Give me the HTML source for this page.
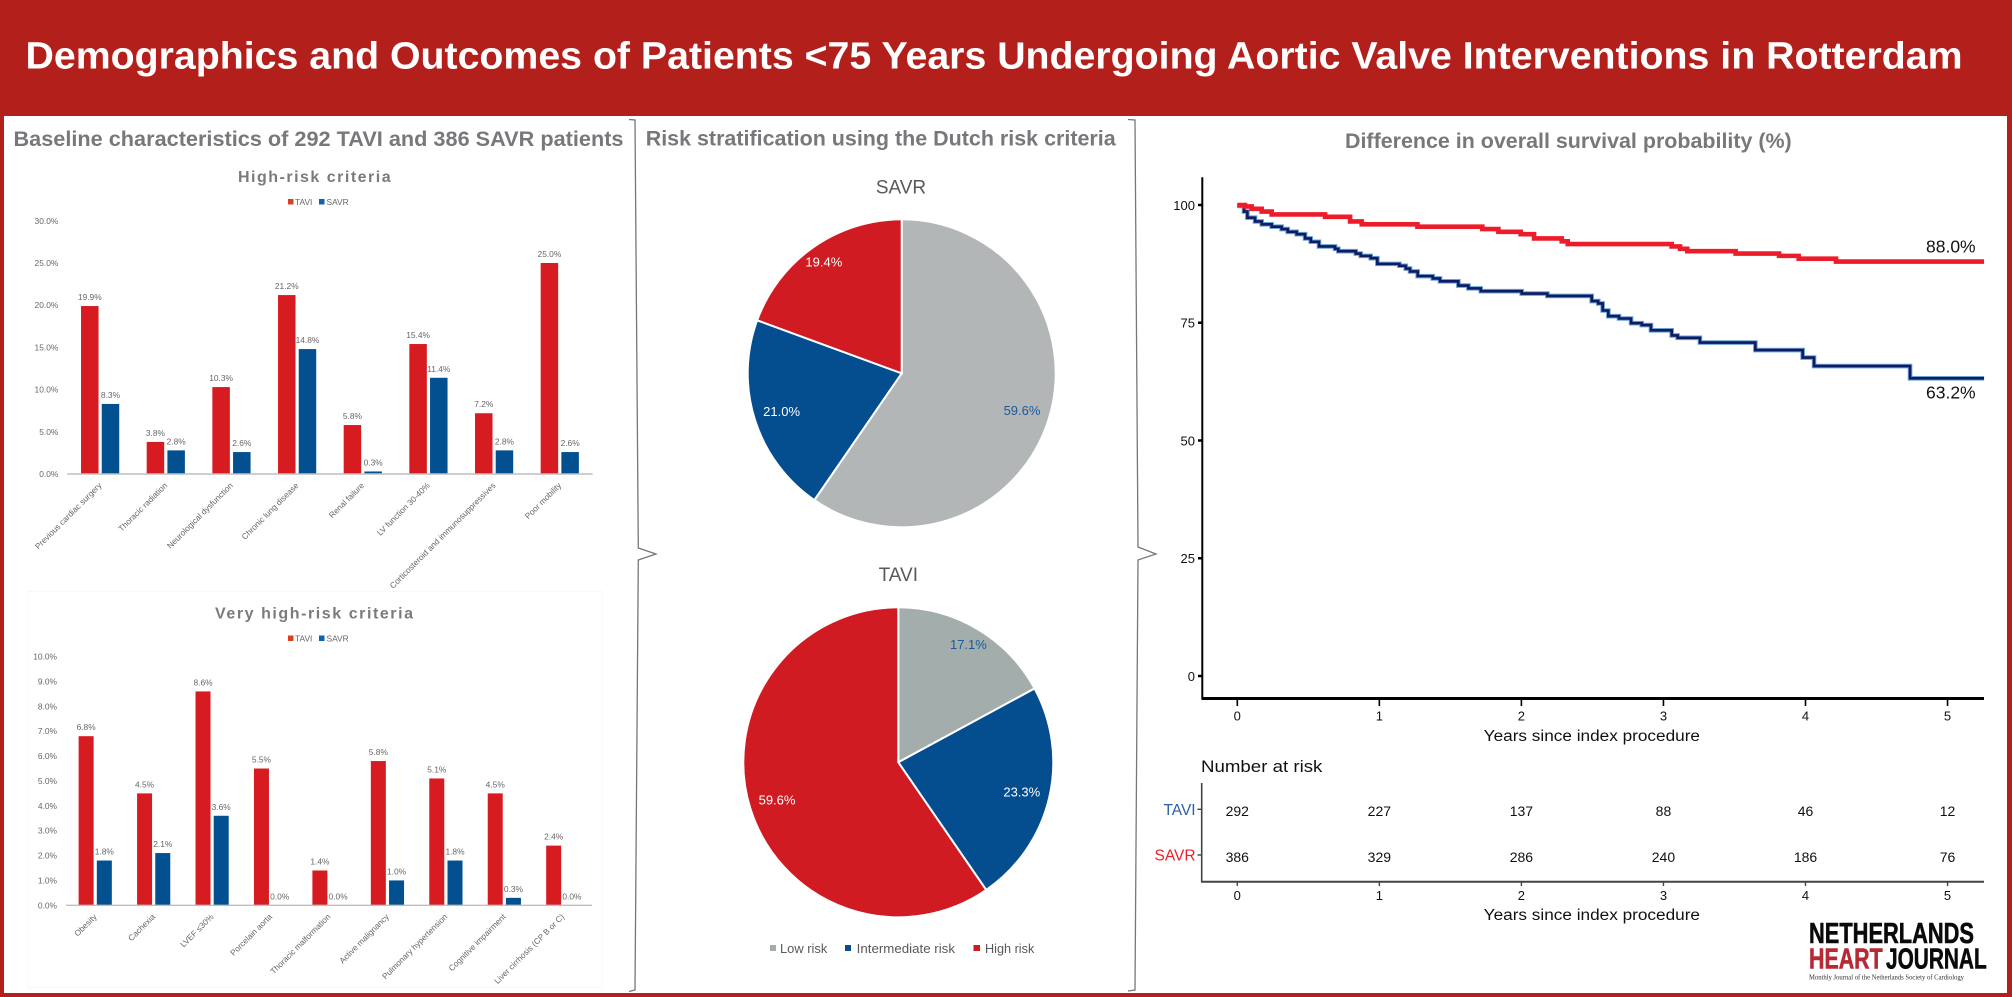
<!DOCTYPE html>
<html lang="en">
<head>
<meta charset="utf-8">
<title>Demographics and Outcomes of Patients &lt;75 Years Undergoing Aortic Valve Interventions in Rotterdam</title>
<style>
  html, body { margin: 0; padding: 0; background: #fff; width: 2012px; height: 997px; overflow: hidden; }
  svg { display: block; font-family: "Liberation Sans", sans-serif; }
  .heading { font-weight: 700; fill: #77787b; font-size: 21.5px; }
  .chart-title { font-weight: 700; fill: #7b7b7b; font-size: 16px; }
  .bar-text { fill: #666; font-size: 8.4px; }
  .km-text { fill: #111; }
</style>
</head>
<body>
<svg id="stage" xmlns="http://www.w3.org/2000/svg" width="2012" height="997" viewBox="0 0 2012 997">
  <rect x="0" y="0" width="2012" height="997" fill="#ffffff"/>
  <rect x="0" y="0" width="2012" height="116" fill="#b3201c"/>
  <rect x="0" y="116" width="4" height="881" fill="#b3201c"/>
  <rect x="2007" y="116" width="5" height="881" fill="#b3201c"/>
  <rect x="0" y="993" width="2012" height="4" fill="#b3201c"/>
  <text x="25.5" y="68.3" font-size="38" font-weight="700" fill="#ffffff" textLength="1937" lengthAdjust="spacingAndGlyphs">Demographics and Outcomes of Patients &lt;75 Years Undergoing Aortic Valve Interventions in Rotterdam</text>

  <text class="heading" x="13.5" y="146" textLength="610" lengthAdjust="spacingAndGlyphs">Baseline characteristics of 292 TAVI and 386 SAVR patients</text>
  <text class="heading" x="645.7" y="145.7" textLength="470" lengthAdjust="spacingAndGlyphs">Risk stratification using the Dutch risk criteria</text>
  <text class="heading" x="1345" y="148" textLength="446.7" lengthAdjust="spacingAndGlyphs">Difference in overall survival probability (%)</text>

  <path d="M629 119.5 L635 120 L638.3 548 L656 554 L638.3 560 L635 990 L629 991.5" fill="none" stroke="#777" stroke-width="1.3"/>
  <path d="M1128 119.5 L1135 120 L1138 547 L1156 554 L1138 560 L1135 990 L1128 991" fill="none" stroke="#777" stroke-width="1.3"/>

  <rect x="28" y="591.5" width="574" height="396" fill="none" stroke="#f8f8f8" stroke-width="1"/>

  <text class="chart-title" x="238" y="182" textLength="152.6" lengthAdjust="spacing">High-risk criteria</text>
  <text class="chart-title" x="215" y="618.5" textLength="198" lengthAdjust="spacing">Very high-risk criteria</text>

  <g>
    <rect x="288" y="199" width="5.5" height="5.5" fill="#d9401f"/>
    <text class="bar-text" x="295" y="204.8">TAVI</text>
    <rect x="319" y="199" width="5.5" height="5.5" fill="#0f63a8"/>
    <text class="bar-text" x="326.5" y="204.8">SAVR</text>
  </g>
  <g>
    <rect x="288" y="635.5" width="5.5" height="5.5" fill="#d9401f"/>
    <text class="bar-text" x="295" y="641.3">TAVI</text>
    <rect x="319" y="635.5" width="5.5" height="5.5" fill="#0f63a8"/>
    <text class="bar-text" x="326.5" y="641.3">SAVR</text>
  </g>

  <g id="high-risk-chart"></g>
  <g id="very-high-risk-chart"></g>

  <text x="901" y="193.5" font-size="19" fill="#595959" text-anchor="middle">SAVR</text>
  <text x="898.3" y="581" font-size="19" fill="#595959" text-anchor="middle">TAVI</text>
  <g id="savr-pie"></g>
  <g id="tavi-pie"></g>

  <g>
    <rect x="770" y="945" width="6" height="6" fill="#a3aeac"/>
    <text x="780" y="953" font-size="13" fill="#595959" textLength="47.3" lengthAdjust="spacingAndGlyphs">Low risk</text>
    <rect x="845" y="945" width="6" height="6" fill="#044d8f"/>
    <text x="856.7" y="953" font-size="13" fill="#595959" textLength="98.3" lengthAdjust="spacingAndGlyphs">Intermediate risk</text>
    <rect x="973.5" y="945" width="6.5" height="6" fill="#cf1b21"/>
    <text x="985" y="953" font-size="13" fill="#595959" textLength="49.3" lengthAdjust="spacingAndGlyphs">High risk</text>
  </g>

  <g id="survival-chart"></g>
  <g id="risk-table"></g>

  <g>
    <text x="1809" y="942.8" font-size="29" font-weight="700" fill="#0a0a0a" stroke="#0a0a0a" stroke-width="0.6" textLength="165" lengthAdjust="spacingAndGlyphs">NETHERLANDS</text>
    <text x="1809" y="968.4" font-size="29" font-weight="700" fill="#b72a35" stroke="#b72a35" stroke-width="0.6" textLength="73.7" lengthAdjust="spacingAndGlyphs">HEART</text>
    <text x="1886" y="968.4" font-size="29" font-weight="700" fill="#0a0a0a" stroke="#0a0a0a" stroke-width="0.6" textLength="100.7" lengthAdjust="spacingAndGlyphs">JOURNAL</text>
    <text x="1809" y="979.5" font-size="7" fill="#333" font-family="Liberation Serif, serif" textLength="155" lengthAdjust="spacingAndGlyphs">Monthly Journal of the Netherlands Society of Cardiology</text>
  </g>
</svg>

<script>
// ---- High-risk bar chart data ----
const highCategories = ['Previous cardiac surgery', 'Thoracic radiation', 'Neurological dysfunction', 'Chronic lung disease', 'Renal failure', 'LV function 30-40%', 'Corticosteroid and immunosuppressives', 'Poor mobility'];
const highTavi = [19.9, 3.8, 10.3, 21.2, 5.8, 15.4, 7.2, 25.0];
const highSavr = [8.3, 2.8, 2.6, 14.8, 0.3, 11.4, 2.8, 2.6];
const highTicks = [0, 5, 10, 15, 20, 25, 30];

// ---- Very high-risk bar chart data ----
const veryCategories = ['Obesity', 'Cachexia', 'LVEF \u226430%', 'Porcelain aorta', 'Thoracic malformation', 'Active malignancy', 'Pulmonary hypertension', 'Cognitive impairment', 'Liver cirrhosis (CP B or C)'];
const veryTavi = [6.8, 4.5, 8.6, 5.5, 1.4, 5.8, 5.1, 4.5, 2.4];
const verySavr = [1.8, 2.1, 3.6, 0.0, 0.0, 1.0, 1.8, 0.3, 0.0];
const veryTicks = [0, 1, 2, 3, 4, 5, 6, 7, 8, 9, 10];

// ---- Pie chart data (clockwise from 12 o'clock) ----
const riskLabels = ['Low risk', 'Intermediate risk', 'High risk'];
const savrRisk = [59.6, 21.0, 19.4];
const taviRisk = [17.1, 23.3, 59.6];

// ---- Survival curve data ----
const yearTicks = [0, 1, 2, 3, 4, 5];
const survivalTicks = [0, 25, 50, 75, 100];
const savrTimes = [0, 0.054, 0.101, 0.172, 0.242, 0.618, 0.794, 0.876, 1.268, 1.725, 1.838, 1.995, 2.089, 2.284, 2.326, 3.058, 3.117, 3.168, 3.508, 3.814, 3.952, 4.215, 5.257];
const savrSurvival = [100, 99.7, 99.2, 98.6, 98.0, 97.5, 96.5, 95.9, 95.4, 94.9, 94.3, 93.8, 92.9, 92.3, 91.7, 91.2, 90.7, 90.2, 89.7, 89.2, 88.6, 88.0, 88.0];
const taviTimes = [0, 0.047, 0.071, 0.125, 0.172, 0.242, 0.312, 0.355, 0.418, 0.477, 0.517, 0.575, 0.688, 0.711, 0.834, 0.869, 0.939, 0.986, 1.141, 1.186, 1.216, 1.27, 1.376, 1.427, 1.556, 1.627, 1.714, 2.002, 2.183, 2.495, 2.541, 2.572, 2.612, 2.687, 2.772, 2.847, 2.912, 3.058, 3.1, 3.257, 3.647, 3.98, 4.06, 4.736, 5.257];
const taviSurvival = [99.8, 98.6, 97.3, 96.5, 95.9, 95.4, 94.9, 94.3, 93.8, 92.9, 92.2, 91.2, 90.7, 90.2, 89.7, 89.2, 88.7, 87.5, 87.1, 86.5, 85.9, 84.9, 84.4, 83.8, 82.9, 82.3, 81.7, 81.2, 80.7, 79.6, 79.1, 77.6, 76.4, 75.9, 74.9, 74.5, 73.4, 72.3, 71.8, 70.8, 69.2, 67.6, 65.8, 63.2, 63.2];
const savrFinalLabel = '88.0%';
const taviFinalLabel = '63.2%';

// ---- Number-at-risk data ----
const riskGroups = ['TAVI', 'SAVR'];
const taviAtRisk = [292, 227, 137, 88, 46, 12];
const savrAtRisk = [386, 329, 286, 240, 186, 76];

const NS = 'http://www.w3.org/2000/svg';
function make(parent, tag, attrs, content) {
  const node = document.createElementNS(NS, tag);
  for (const key in attrs) node.setAttribute(key, attrs[key]);
  if (content !== undefined) node.textContent = content;
  parent.appendChild(node);
  return node;
}
function slug(s) {
  return String(s).toLowerCase().replace(/[^a-z0-9]+/g, '-').replace(/^-|-$/g, '');
}

function drawBars(root, cats, tavi, savr, ticks, o) {
  const y = v => o.base - v * o.perUnit;
  const band = (o.right - o.left) / cats.length;
  const center = i => o.left + band * (i + 0.5);

  ticks.forEach(t => {
    const label = make(root, 'text', { x: o.left - o.tickGap, y: y(t) + 3, 'text-anchor': 'end', class: 'bar-text' }, t.toFixed(1) + '%');
    
    
  });

  cats.forEach((cat, i) => {
    const cx = center(i);
    const redBar = make(root, 'rect', { x: cx - o.gap / 2 - o.barW, y: y(tavi[i]), width: o.barW, height: o.perUnit * tavi[i], fill: '#d71c21' });
    
    
    const blueBar = make(root, 'rect', { x: cx + o.gap / 2, y: y(savr[i]), width: o.barW, height: o.perUnit * savr[i], fill: '#02508f' });
    
    

    const redValue = make(root, 'text', { x: cx - o.gap / 2 - o.barW / 2, y: y(tavi[i]) - 6, 'text-anchor': 'middle', class: 'bar-text' }, tavi[i].toFixed(1) + '%');
    
    
    const blueValue = make(root, 'text', { x: cx + o.gap / 2 + o.barW / 2, y: y(savr[i]) - 6, 'text-anchor': 'middle', class: 'bar-text' }, savr[i].toFixed(1) + '%');
    
    

    const catLabel = make(root, 'text', { transform: 'translate(' + (cx + 2) + ',' + (o.base + o.catGap) + ') rotate(-45)', 'text-anchor': 'end', class: 'bar-text', style: 'font-size:8.2px' }, cat);
    
    
  });

  const axis = make(root, 'line', { x1: o.left, x2: o.right, y1: o.base, y2: o.base, stroke: '#bfbfbf', 'stroke-width': 1.4 });
  
  
}

drawBars(document.getElementById('high-risk-chart'), highCategories, highTavi, highSavr, highTicks,
  { left: 67.3, right: 592.6, base: 474, perUnit: 8.44, barW: 17.5, gap: 3.2, tickGap: 9, catGap: 12 });
drawBars(document.getElementById('very-high-risk-chart'), veryCategories, veryTavi, verySavr, veryTicks,
  { left: 66, right: 592, base: 905.3, perUnit: 24.87, barW: 15, gap: 3.2, tickGap: 9, catGap: 12 });

function drawPie(root, values, cx, cy, r, colours, labelColours, name) {
  const total = values.reduce((a, b) => a + b, 0);
  let acc = 0;
  const point = (frac, radius) => {
    const a = frac * 2 * Math.PI;
    return [cx + radius * Math.sin(a), cy - radius * Math.cos(a)];
  };
  values.forEach((v, i) => {
    const start = acc / total;
    acc += v;
    const end = acc / total;
    const p0 = point(start, r);
    const p1 = point(end, r);
    const large = end - start > 0.5 ? 1 : 0;
    const slice = make(root, 'path', {
      d: 'M' + cx + ' ' + cy + ' L' + p0[0] + ' ' + p0[1] + ' A' + r + ' ' + r + ' 0 ' + large + ' 1 ' + p1[0] + ' ' + p1[1] + ' Z',
      fill: colours[i], stroke: '#ffffff', 'stroke-width': 2
    });
    
    
  });
  acc = 0;
  values.forEach((v, i) => {
    const mid = (acc + v / 2) / total;
    acc += v;
    const lp = point(mid, v < 20 ? r - 18 : r - 28);
    const label = make(root, 'text', { x: lp[0], y: lp[1] + 4.5, 'text-anchor': 'middle', 'font-size': 13, fill: labelColours[i] }, v.toFixed(1) + '%');
    
    
  });
}
drawPie(document.getElementById('savr-pie'), savrRisk, 901.7, 373.3, 154, ['#b3b6b7', '#044d8f', '#cf1b21'], ['#1a5a9a', '#ffffff', '#ffffff'], 'savr');
drawPie(document.getElementById('tavi-pie'), taviRisk, 898.3, 762.3, 155, ['#a3aeac', '#044d8f', '#cf1b21'], ['#1a5a9a', '#ffffff', '#ffffff'], 'tavi');

// Axis functions shared by survival plot and risk table
const xYear = t => 1237.3 + t * 142.05;
const ySurv = s => 676 - s * 4.71;

function stepPath(times, values) {
  let d = 'M' + xYear(times[0]) + ' ' + ySurv(values[0]);
  for (let i = 1; i < times.length; i++) {
    d += ' H' + xYear(times[i]) + ' V' + ySurv(values[i]);
  }
  return d;
}

(function drawSurvival() {
  const root = document.getElementById('survival-chart');
  survivalTicks.forEach(t => {
    const mark = make(root, 'line', { x1: 1198, x2: 1202, y1: ySurv(t), y2: ySurv(t), stroke: '#000', 'stroke-width': 2.5 });
    
    
    const label = make(root, 'text', { x: 1195, y: ySurv(t) + 4.8, 'text-anchor': 'end', 'font-size': 13, class: 'km-text' }, t);
    
    
  });
  yearTicks.forEach(t => {
    const mark = make(root, 'line', { x1: xYear(t), x2: xYear(t), y1: 699, y2: 706, stroke: '#000', 'stroke-width': 1.6 });
    
    
    const label = make(root, 'text', { x: xYear(t), y: 720.5, 'text-anchor': 'middle', 'font-size': 13, class: 'km-text' }, t);
    
    
  });
  const yAxis = make(root, 'line', { x1: 1202.3, x2: 1202.3, y1: 177.3, y2: 699, stroke: '#000', 'stroke-width': 2 });
  
  
  const xAxis = make(root, 'line', { x1: 1201.5, x2: 1984, y1: 698.5, y2: 698.5, stroke: '#000', 'stroke-width': 3 });
  
  
  const xTitle = make(root, 'text', { x: 1483.7, y: 741, 'font-size': 15.5, class: 'km-text', textLength: 216.3, lengthAdjust: 'spacingAndGlyphs' }, 'Years since index procedure');
  
  

  const taviHalo = make(root, 'path', { d: stepPath(taviTimes, taviSurvival), fill: 'none', stroke: '#6aa3d2', 'stroke-width': 4.6 });
  
  
  const taviLine = make(root, 'path', { d: stepPath(taviTimes, taviSurvival), fill: 'none', stroke: '#0c1b63', 'stroke-width': 2.6 });
  
  
  const savrLine = make(root, 'path', { d: stepPath(savrTimes, savrSurvival), fill: 'none', stroke: '#ed1c2a', 'stroke-width': 4.6 });
  
  

  const savrEnd = make(root, 'text', { x: 1926, y: 252.5, 'font-size': 17.5, class: 'km-text' }, savrFinalLabel);
  
  
  const taviEnd = make(root, 'text', { x: 1926, y: 398.5, 'font-size': 17.5, class: 'km-text' }, taviFinalLabel);
  
  
})();

(function drawRiskTable() {
  const root = document.getElementById('risk-table');
  const rowY = { TAVI: 809.3, SAVR: 855 };
  const rows = { TAVI: taviAtRisk, SAVR: savrAtRisk };
  const colours = { TAVI: '#2b5ea7', SAVR: '#ed2027' };

  const heading = make(root, 'text', { x: 1201, y: 772, 'font-size': 17, class: 'km-text', textLength: 121.4, lengthAdjust: 'spacingAndGlyphs' }, 'Number at risk');
  
  
  const vLine = make(root, 'line', { x1: 1201.7, x2: 1201.7, y1: 783, y2: 882, stroke: '#444', 'stroke-width': 1.6 });
  
  
  const hLine = make(root, 'line', { x1: 1201, x2: 1984, y1: 881.7, y2: 881.7, stroke: '#444', 'stroke-width': 2 });
  
  

  riskGroups.forEach(g => {
    const mark = make(root, 'line', { x1: 1197.5, x2: 1201.7, y1: rowY[g], y2: rowY[g], stroke: '#444', 'stroke-width': 1.4 });
    
    
    const label = make(root, 'text', { x: 1195.6, y: rowY[g] + 5.5, 'text-anchor': 'end', 'font-size': 15.5, fill: colours[g] }, g);
    
    
    rows[g].forEach((n, i) => {
      const cell = make(root, 'text', { x: xYear(yearTicks[i]), y: rowY[g] + 6.8, 'text-anchor': 'middle', 'font-size': 14, class: 'km-text' }, n);
      
      
    });
  });

  yearTicks.forEach(t => {
    const mark = make(root, 'line', { x1: xYear(t), x2: xYear(t), y1: 882, y2: 886, stroke: '#444', 'stroke-width': 1.4 });
    
    
    const label = make(root, 'text', { x: xYear(t), y: 900, 'text-anchor': 'middle', 'font-size': 13, class: 'km-text' }, t);
    
    
  });
  const title = make(root, 'text', { x: 1483.7, y: 920, 'font-size': 15.5, class: 'km-text', textLength: 216.3, lengthAdjust: 'spacingAndGlyphs' }, 'Years since index procedure');
  
  
})();
</script>
</body>
</html>
